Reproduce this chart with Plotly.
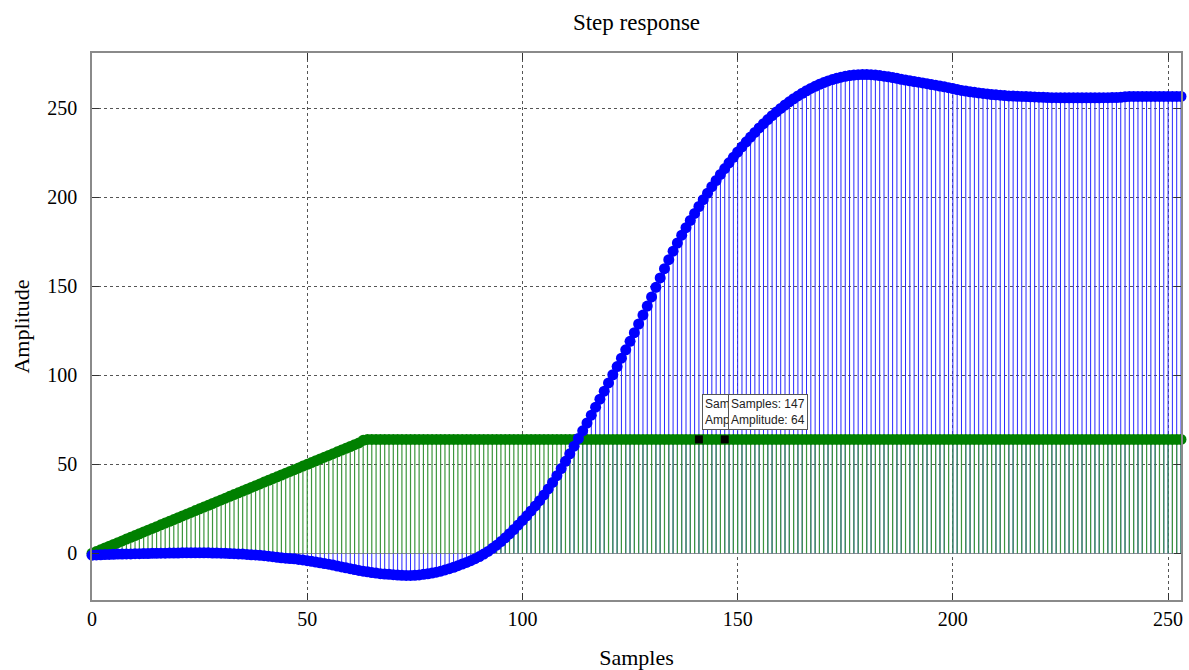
import plotly.graph_objects as go

# ---- data ----
step_response = [
    -1.0, -0.9, -0.8, -0.7, -0.6, -0.5, -0.4, -0.4, -0.3, -0.3,
    -0.2, -0.2, -0.1, -0.1, 0.0, 0.0, 0.1, 0.1, 0.2, 0.2,
    0.2, 0.3, 0.3, 0.3, 0.3, 0.3, 0.3, 0.3, 0.2, 0.2,
    0.1, 0.0, -0.1, -0.2, -0.3, -0.4, -0.6, -0.8, -0.9, -1.1,
    -1.3, -1.6, -1.9, -2.2, -2.5, -2.7, -2.9, -3.1, -3.4, -3.7,
    -4.1, -4.5, -4.9, -5.3, -5.7, -6.1, -6.6, -7.1, -7.6, -8.1,
    -8.6, -9.1, -9.6, -10.0, -10.4, -10.8, -11.1, -11.4, -11.6, -11.8,
    -12.0, -12.2, -12.3, -12.4, -12.4, -12.3, -12.1, -11.8, -11.5, -11.1,
    -10.6, -10.0, -9.3, -8.6, -7.8, -6.9, -6.0, -5.1, -4.1, -3.0,
    -1.8, -0.4, 1.1, 2.8, 4.6, 6.6, 8.7, 11.0, 13.4, 15.9,
    18.5, 21.1, 23.8, 26.6, 29.6, 32.8, 36.2, 39.8, 43.6, 47.6,
    51.7, 55.9, 60.2, 64.5, 68.8, 73.2, 77.6, 82.1, 86.6, 91.1,
    95.7, 100.3, 104.9, 109.6, 114.3, 119.1, 123.9, 128.8, 133.8, 138.9,
    144.0, 149.4, 154.7, 159.9, 164.9, 169.7, 174.3, 178.7, 182.9, 187.0,
    190.9, 194.8, 198.6, 202.3, 205.9, 209.4, 212.8, 216.1, 219.3, 222.4,
    225.4, 228.3, 231.1, 233.8, 236.4, 238.9, 241.3, 243.6, 245.8, 247.9,
    249.9, 251.8, 253.6, 255.3, 256.9, 258.4, 259.8, 261.1, 262.3, 263.4,
    264.4, 265.3, 266.1, 266.8, 267.4, 267.9, 268.3, 268.6, 268.8, 268.9,
    268.9, 268.8, 268.6, 268.3, 268.0, 267.6, 267.2, 266.8, 266.2, 265.8,
    265.4, 265.0, 264.6, 264.2, 263.8, 263.3, 262.9, 262.4, 262.0, 261.5,
    261.0, 260.5, 260.0, 259.6, 259.2, 258.9, 258.6, 258.3, 258.0, 257.7,
    257.5, 257.3, 257.1, 256.9, 256.8, 256.7, 256.6, 256.5, 256.4, 256.3,
    256.2, 256.1, 256.0, 255.9, 255.9, 255.8, 255.8, 255.8, 255.8, 255.8,
    255.8, 255.8, 255.8, 255.8, 255.8, 255.9, 255.9, 256.0, 256.0, 256.1,
    256.4, 256.6, 256.6, 256.6, 256.6, 256.6, 256.6, 256.6, 256.6, 256.6,
    256.6, 256.6, 256.6, 256.6,
]

ramp_input = [
    0, 1, 2, 3, 4, 5, 6, 7, 8, 9,
    10, 11, 12, 13, 14, 15, 16, 17, 18, 19,
    20, 21, 22, 23, 24, 25, 26, 27, 28, 29,
    30, 31, 32, 33, 34, 35, 36, 37, 38, 39,
    40, 41, 42, 43, 44, 45, 46, 47, 48, 49,
    50, 51, 52, 53, 54, 55, 56, 57, 58, 59,
    60, 61, 62, 63.5, 64, 64, 64, 64, 64, 64,
    64, 64, 64, 64, 64, 64, 64, 64, 64, 64,
    64, 64, 64, 64, 64, 64, 64, 64, 64, 64,
    64, 64, 64, 64, 64, 64, 64, 64, 64, 64,
    64, 64, 64, 64, 64, 64, 64, 64, 64, 64,
    64, 64, 64, 64, 64, 64, 64, 64, 64, 64,
    64, 64, 64, 64, 64, 64, 64, 64, 64, 64,
    64, 64, 64, 64, 64, 64, 64, 64, 64, 64,
    64, 64, 64, 64, 64, 64, 64, 64, 64, 64,
    64, 64, 64, 64, 64, 64, 64, 64, 64, 64,
    64, 64, 64, 64, 64, 64, 64, 64, 64, 64,
    64, 64, 64, 64, 64, 64, 64, 64, 64, 64,
    64, 64, 64, 64, 64, 64, 64, 64, 64, 64,
    64, 64, 64, 64, 64, 64, 64, 64, 64, 64,
    64, 64, 64, 64, 64, 64, 64, 64, 64, 64,
    64, 64, 64, 64, 64, 64, 64, 64, 64, 64,
    64, 64, 64, 64, 64, 64, 64, 64, 64, 64,
    64, 64, 64, 64, 64, 64, 64, 64, 64, 64,
    64, 64, 64, 64, 64, 64, 64, 64, 64, 64,
    64, 64, 64, 64,
]

samples = list(range(len(step_response)))
datatip_samples = [141, 147]

x_ticks = [0, 50, 100, 150, 200, 250]
y_ticks = [0, 50, 100, 150, 200, 250]

BLUE = "rgb(0,0,255)"
GREEN = "rgb(0,128,0)"
SERIF = "Liberation Serif"


def stem_xy(xs, ys):
    sx, sy = [], []
    for a, b in zip(xs, ys):
        sx += [a, a, None]
        sy += [0, b, None]
    return sx, sy


fig = go.Figure()

bx, by = stem_xy(samples, step_response)
gx, gy = stem_xy(samples, ramp_input)

fig.add_trace(go.Scatter(x=bx, y=by, mode="lines", line=dict(color="rgb(40,40,255)", width=1),
                         hoverinfo="skip", showlegend=False))
fig.add_trace(go.Scatter(x=gx, y=gy, mode="lines", line=dict(color="rgb(60,150,60)", width=1.2),
                         hoverinfo="skip", showlegend=False))
fig.add_trace(go.Scatter(x=samples, y=ramp_input, mode="markers",
                         marker=dict(color=GREEN, size=11, line=dict(width=0)),
                         cliponaxis=False, showlegend=False, name="Input"))
fig.add_trace(go.Scatter(x=samples, y=step_response, mode="markers",
                         marker=dict(color=BLUE, size=11, line=dict(width=0)),
                         cliponaxis=False, showlegend=False, name="Step response"))

# datatip markers
fig.add_trace(go.Scatter(x=datatip_samples, y=[ramp_input[s] for s in datatip_samples],
                         mode="markers", marker=dict(color="black", symbol="square", size=8),
                         cliponaxis=False, showlegend=False, hoverinfo="skip"))

for s in datatip_samples:
    fig.add_annotation(
        x=s, y=ramp_input[s], xref="x", yref="y",
        text=f"Samples: {s}<br>Amplitude: {ramp_input[s]}",
        showarrow=False, xanchor="left", yanchor="bottom", align="left",
        xshift=3, yshift=9,
        font=dict(family="Liberation Sans", size=12, color="#222"),
        bgcolor="white", bordercolor="#555", borderwidth=1, borderpad=2,
    )

axis_common = dict(
    showline=True, mirror="ticks", linecolor="#8a8a8a", linewidth=1.5,
    ticks="inside", ticklen=7, tickcolor="#333", tickwidth=1,
    showgrid=True, gridcolor="#555", griddash="dot", gridwidth=1,
    tickfont=dict(family=SERIF, size=20, color="black"),
    automargin=False,
)

fig.update_xaxes(
    range=[0, 253], tickmode="array", tickvals=x_ticks, zeroline=False,
    title=dict(text="Samples", font=dict(family=SERIF, size=22, color="black"), standoff=21),
    **axis_common,
)
fig.update_yaxes(
    range=[-26.2, 281], tickmode="array", tickvals=y_ticks,
    zeroline=True, zerolinecolor="#909090", zerolinewidth=1,
    ticklabelstandoff=9,
    title=dict(text="Amplitude", font=dict(family=SERIF, size=22, color="black"), standoff=12),
    **axis_common,
)

fig.update_layout(
    width=1189, height=670,
    margin=dict(l=92, r=8, t=53, b=70, autoexpand=False),
    paper_bgcolor="white", plot_bgcolor="white",
    title=dict(text="Step response", x=0.5, xref="paper", y=1 - 22 / 670, yref="container",
               yanchor="middle", xanchor="center",
               font=dict(family=SERIF, size=23, color="black"), automargin=False),
    showlegend=False,
)

fig.write_html(
    "out.html",
    config={"displayModeBar": False},
    post_script="document.body.style.margin='0';document.body.style.overflow='hidden';",
)
